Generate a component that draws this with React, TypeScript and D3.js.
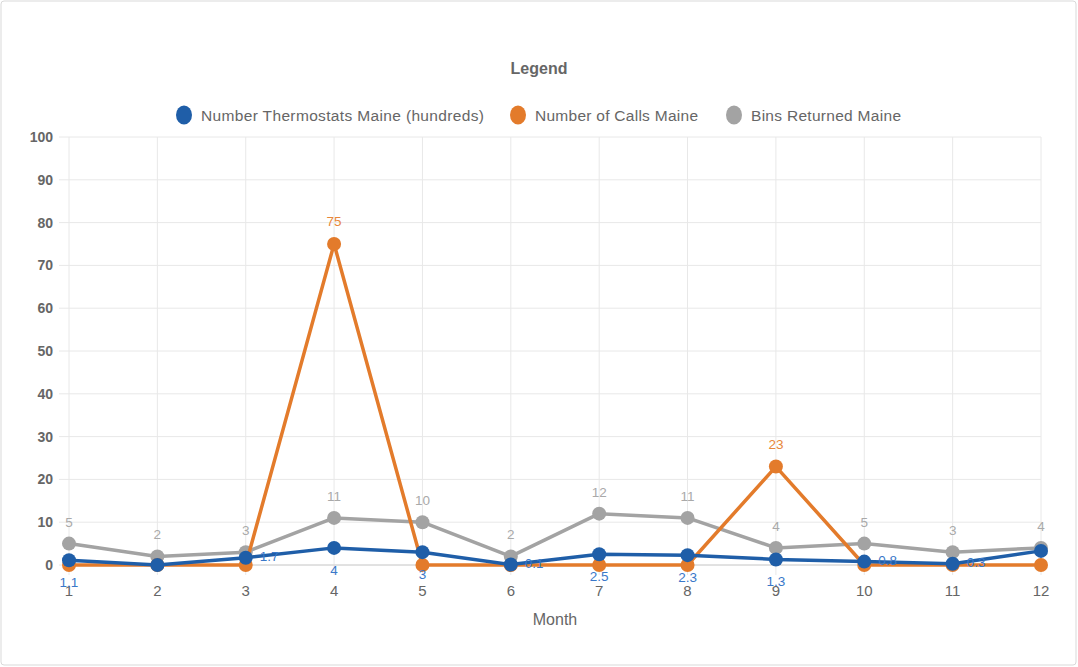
import React from "react";
import * as d3 from "d3";

const months = [1, 2, 3, 4, 5, 6, 7, 8, 9, 10, 11, 12];
const thermostats = [1.1, 0, 1.7, 4, 3, 0.1, 2.5, 2.3, 1.3, 0.8, 0.3, 3.3];
const calls = [0, 0, 0, 75, 0, 0, 0, 0, 23, 0, 0, 0];
const bins = [5, 2, 3, 11, 10, 2, 12, 11, 4, 5, 3, 4];
const yTicks = [0, 10, 20, 30, 40, 50, 60, 70, 80, 90, 100];
// label placement per point for thermostats
const thermoLabelPos = ["below", "hide", "right", "below", "below", "right", "below", "below", "below", "right", "right", "hide"];

const series = [
  { name: "Number Thermostats Maine (hundreds)", values: thermostats, color: "#1f5ea8", label: "#3a78c9" },
  { name: "Number of Calls Maine", values: calls, color: "#e37b2b", label: "#e8873a" },
  { name: "Bins Returned Maine", values: bins, color: "#a3a3a3", label: "#a9a9a9" },
];

const W = 1078, H = 667;
const left = 69, right = 1041, top = 137, bottom = 565;

export default function App() {
  const x = d3.scalePoint<number>().domain(months).range([left, right]);
  const y = d3.scaleLinear().domain([0, 100]).range([bottom, top]);
  const line = d3.line<number>().x((_, i) => x(months[i])!).y((v) => y(v));
  const font = "'Liberation Sans', Arial, Helvetica, sans-serif";
  const legendX = [184, 518, 734];

  return (
    <svg width={W} height={H} style={{ position: "absolute", left: 0, top: 0 }} fontFamily={font}>
      <rect x={1} y={1} width={W - 3} height={H - 3} rx={3} fill="#fff" stroke="#d9d9d9" />
      <text x={539} y={74} textAnchor="middle" fontSize={16} fontWeight="bold" fill="#666">Legend</text>
      {series.map((s, i) => (
        <g key={s.name}>
          <ellipse cx={legendX[i]} cy={115} rx={8} ry={9.5} fill={s.color} />
          <text x={legendX[i] + 17} y={120.5} fontSize={15.5} fill="#666" textLength={i === 0 ? 283 : i === 1 ? 163 : 150}>{s.name}</text>
        </g>
      ))}
      {/* grid */}
      {yTicks.map((t) => (
        <g key={t}>
          <line x1={left - 10} x2={right} y1={y(t)} y2={y(t)} stroke="#e8e8e8" />
          <text x={53} y={y(t) + 5} textAnchor="end" fontSize={14} fontWeight="bold" fill="#666">{t}</text>
        </g>
      ))}
      {months.map((m) => (
        <g key={m}>
          <line x1={x(m)} x2={x(m)} y1={top} y2={bottom + 10} stroke="#e8e8e8" />
          <text x={x(m)} y={bottom + 31} textAnchor="middle" fontSize={15} fill="#666">{m}</text>
        </g>
      ))}
      <line x1={left} x2={right} y1={bottom} y2={bottom} stroke="#d0d0d0" />
      <text x={(left + right) / 2} y={625} textAnchor="middle" fontSize={16} fill="#666">Month</text>
      {/* series, drawn reverse so first is on top */}
      {[...series].reverse().map((s) => (
        <g key={s.name}>
          <path d={line(s.values) || ""} fill="none" stroke={s.color} strokeWidth={3.5} strokeLinejoin="round" />
          {s.values.map((v, i) => (
            <circle key={i} cx={x(months[i])} cy={y(v)} r={7} fill={s.color} />
          ))}
        </g>
      ))}
      {/* labels */}
      {bins.map((v, i) => (
        <text key={"b" + i} x={x(months[i])} y={y(v) - 17} textAnchor="middle" fontSize={13.5} fill="#a9a9a9">{v}</text>
      ))}
      {calls.map((v, i) =>
        v === 0 ? null : (
          <text key={"c" + i} x={x(months[i])} y={y(v) - 18} textAnchor="middle" fontSize={13.5} fill="#e8873a">{v}</text>
        )
      )}
      {thermostats.map((v, i) => {
        const pos = thermoLabelPos[i];
        if (pos === "hide") return null;
        const px = x(months[i])!, py = y(v);
        if (pos === "right")
          return <text key={"t" + i} x={px + 14} y={py + 3} fontSize={13.5} fill="#3a78c9">{v}</text>;
        return <text key={"t" + i} x={px} y={py + 27} textAnchor="middle" fontSize={13.5} fill="#3a78c9">{v}</text>;
      })}
    </svg>
  );
}
